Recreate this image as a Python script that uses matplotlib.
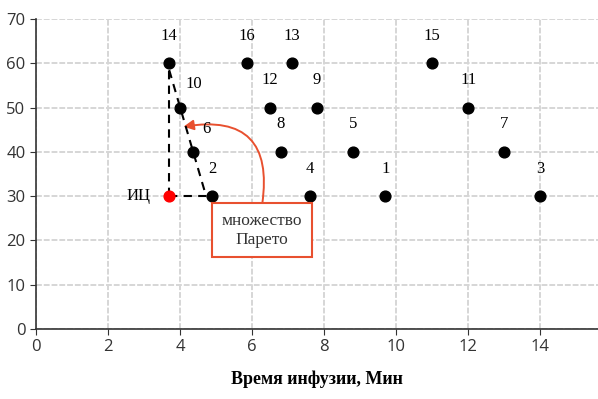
import matplotlib.pyplot as plt
from matplotlib.patches import FancyArrowPatch

# данные: номер варианта, время инфузии, второй критерий
nomera = ['14', '16', '13', '15', '12', '9', '10', '11', '6', '8', '5', '7', '2', '4', '1', '3']
vremya = [3.7, 5.85, 7.1, 11.0, 6.5, 7.8, 4.0, 12.0, 4.35, 6.8, 8.8, 13.0, 4.9, 7.6, 9.7, 14.0]
znach = [60, 60, 60, 60, 50, 50, 50, 50, 40, 40, 40, 40, 30, 30, 30, 30]
# сдвиг подписей (в пикселях) для точек 10 и 6
sdvig_x = {'10': 10, '6': 10}
sdvig_y = {'10': 11, '6': 11}

ic_x, ic_y = 3.7, 30  # идеальная точка
xticks = [0, 2, 4, 6, 8, 10, 12, 14]
yticks = [0, 10, 20, 30, 40, 50, 60, 70]

fig = plt.figure(figsize=(5.98, 3.99), dpi=100)
ax = fig.add_axes([0.060, 0.1755, 0.94, 0.7765])

ax.set_xlim(0, 15.6)
ax.set_ylim(0, 70)
ax.set_xticks(xticks)
ax.set_yticks(yticks)
ax.grid(True, color='#d6d6d6', linestyle=(0, (3, 1)), linewidth=1.4)
ax.set_axisbelow(True)
for s in ['top', 'right']:
    ax.spines[s].set_visible(False)
for s in ['left', 'bottom']:
    ax.spines[s].set_color('#333333')
    ax.spines[s].set_linewidth(1.2)
ax.tick_params(length=4, color='#333333', labelsize=12, labelcolor='#333333')
for lab in ax.get_xticklabels() + ax.get_yticklabels():
    lab.set_family('Open Sans')

# пунктирные линии
i14 = nomera.index('14')
i2 = nomera.index('2')
ax.plot([ic_x, vremya[i14]], [ic_y, znach[i14] - 1.5], 'k--', lw=1.5, dashes=(4, 3))
ax.plot([ic_x, vremya[i2] - 0.15], [ic_y, znach[i2]], 'k--', lw=1.5, dashes=(4, 3))
ax.plot([vremya[i14], vremya[i2] - 0.2], [znach[i14] - 1.5, znach[i2] + 0.7], 'k--', lw=1.5, dashes=(4, 3))

ax.scatter(vremya, znach, s=60, color='black', zorder=3)
ax.scatter([ic_x], [ic_y], s=60, color='#ff0000', zorder=3)

for n, x, y in zip(nomera, vremya, znach):
    ax.annotate(n, (x, y), xytext=(sdvig_x.get(n, 0), sdvig_y.get(n, 14)),
                textcoords='offset points', ha='center', va='bottom',
                fontsize=12, family='Liberation Serif')
ax.annotate('ИЦ', (ic_x, ic_y), xytext=(-22, 0), textcoords='offset points',
            ha='center', va='center', fontsize=12, family='Liberation Serif')

# подпись и стрелка
ax.text(6.27, 22.3, 'множество\nПарето', ha='center', va='center', fontsize=12.5,
        family='Liberation Serif', color='#333333', linespacing=1.25,
        bbox=dict(boxstyle='square,pad=0.55', fc='white', ec='#e8502f', lw=1.5))
arr = FancyArrowPatch((6.27, 27.6), (4.02, 45.6), connectionstyle='arc3,rad=0.7',
                      arrowstyle='-|>', mutation_scale=15, color='#e8502f', lw=1.4)
ax.add_patch(arr)

ax.set_xlabel('Время инфузии, Мин', fontsize=13, fontweight='bold',
              family='Liberation Serif', labelpad=11)

fig.savefig('out.png', dpi=100)
